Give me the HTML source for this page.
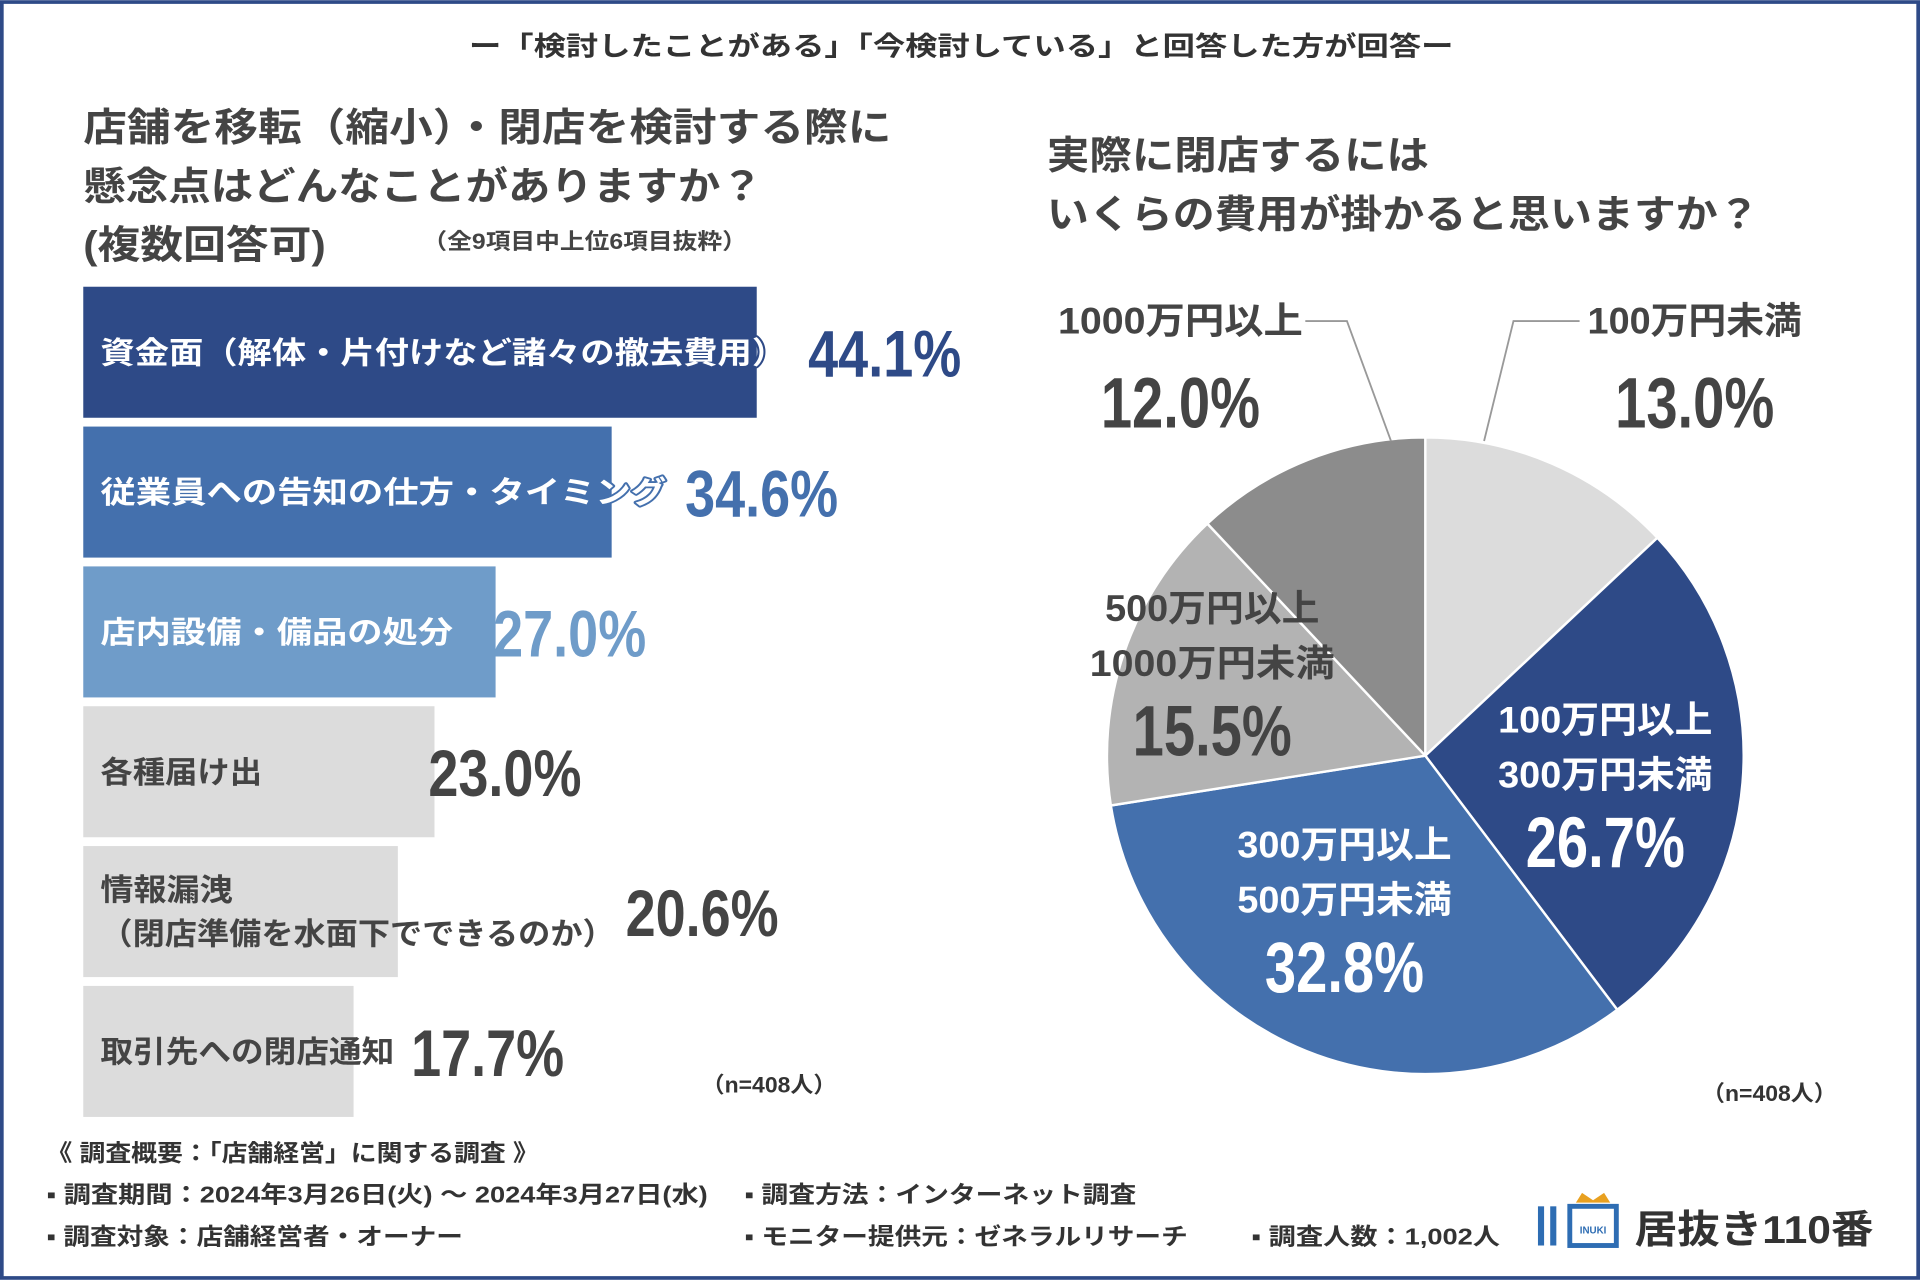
<!DOCTYPE html>
<html><head><meta charset="utf-8"><style>
html,body{margin:0;padding:0;background:#fff}
svg{display:block}
text{font-family:"Liberation Sans","Noto Sans CJK JP",sans-serif;font-weight:bold}
.num{font-family:"Liberation Sans",sans-serif;font-weight:bold}
</style></head><body>
<svg width="1920" height="1280" viewBox="0 0 1568 1045" xmlns="http://www.w3.org/2000/svg">
<rect x="1.5" y="1.5" width="1565" height="1042" fill="#fff" stroke="#2e4a87" stroke-width="3"/>
<text x="383" y="45" textLength="804" lengthAdjust="spacingAndGlyphs" font-size="22" fill="#333">ー「検討したことがある」「今検討している」と回答した方が回答ー</text>
<g fill="#444" font-size="32">
<text x="68" y="115" textLength="660" lengthAdjust="spacingAndGlyphs">店舗を移転（縮小）・閉店を検討する際に</text>
<text x="68" y="163" textLength="555" lengthAdjust="spacingAndGlyphs">懸念点はどんなことがありますか？</text>
<text x="68" y="211" textLength="198" lengthAdjust="spacingAndGlyphs">(複数回答可)</text>
<text x="345" y="203" font-size="18" textLength="265" lengthAdjust="spacingAndGlyphs">（全9項目中上位6項目抜粋）</text>
</g>
<g id="bars"></g>
<text x="573" y="892" font-size="18" fill="#333" textLength="110" lengthAdjust="spacingAndGlyphs">（n=408人）</text>
<g fill="#444" font-size="32">
<text x="855" y="138" textLength="312" lengthAdjust="spacingAndGlyphs">実際に閉店するには</text>
<text x="855" y="186" textLength="582" lengthAdjust="spacingAndGlyphs">いくらの費用が掛かると思いますか？</text>
</g>
<g id="pie"></g>
<text x="1390" y="899" font-size="18" fill="#333" textLength="110" lengthAdjust="spacingAndGlyphs">（n=408人）</text>
<g font-size="19" fill="#333">
<text x="38" y="948" textLength="402" lengthAdjust="spacingAndGlyphs">《 調査概要：「店舗経営」に関する調査 》</text>
<text x="38" y="982" textLength="540" lengthAdjust="spacingAndGlyphs">▪ 調査期間：2024年3月26日(火) 〜 2024年3月27日(水)</text>
<text x="608" y="982" textLength="320" lengthAdjust="spacingAndGlyphs">▪ 調査方法：インターネット調査</text>
<text x="38" y="1016" textLength="340" lengthAdjust="spacingAndGlyphs">▪ 調査対象：店舗経営者・オーナー</text>
<text x="608" y="1016" textLength="362" lengthAdjust="spacingAndGlyphs">▪ モニター提供元：ゼネラルリサーチ</text>
<text x="1022" y="1016" textLength="203" lengthAdjust="spacingAndGlyphs">▪ 調査人数：1,002人</text>
</g>
<g>
<rect x="1256" y="985" width="5" height="32" fill="#2e6db3"/>
<rect x="1266" y="985" width="5" height="32" fill="#2e6db3"/>
<rect x="1282" y="985" width="38" height="32" fill="none" stroke="#2e6db3" stroke-width="4"/>
<path d="M1287 982 l5 -8 l9 6 l9 -6 l5 8 z" fill="#e8a020"/>
<text x="1301" y="1007" text-anchor="middle" font-size="8" fill="#2e6db3">INUKI</text>
<text x="1335" y="1015" font-size="32" fill="#333" textLength="195" lengthAdjust="spacingAndGlyphs">居抜き110番</text>
</g>
<script>
const barLabels=["資金面（解体・片付けなど諸々の撤去費用）","従業員への告知の仕方・タイミング","店内設備・備品の処分","各種届け出","情報漏洩\n（閉店準備を水面下でできるのか）","取引先への閉店通知"];
const barValues=[44.1,34.6,27.0,23.0,20.6,17.7];
const barColors=["#2e4a87","#4470ad","#6f9cc9","#dcdcdc","#dcdcdc","#dcdcdc"];
const valColors=["#2e4a87","#4470ad","#6f9cc9","#444","#444","#444"];
const labColors=["#fff","#fff","#fff","#444","#444","#444"];
const labWidths=[[560],[462],[288],[132],[108,420],[240]];
const pieLabels=["100万円未満","100万円以上\n300万円未満","300万円以上\n500万円未満","500万円以上\n1000万円未満","1000万円以上"];
const pieValues=[13.0,26.7,32.8,15.5,12.0];
const pieColors=["#dcdcdc","#2e4a87","#4470ad","#b3b3b3","#8c8c8c"];
const NS="http://www.w3.org/2000/svg";
function mk(tag,attrs,parent){const e=document.createElementNS(NS,tag);for(const k in attrs)e.setAttribute(k,attrs[k]);parent.appendChild(e);return e;}
const x0=68,xs=v=>v*550/44.1,y0=234,step=114.2,bh=107;
const valOff=[42,60,-2,-5,186,47];
const bars=document.getElementById('bars');
barValues.forEach((v,i)=>{
 const y=y0+i*step,w=xs(v);
 const r=mk('rect',{x:x0,y:y,width:w,height:bh,fill:barColors[i]},bars);
 
 
 const lines=barLabels[i].split("\n");
 lines.forEach((ln,j)=>{
  const attrs={x:82,y:y+bh/2+9+(j-(lines.length-1)/2)*36,'font-size':25,fill:labColors[i],textLength:labWidths[i][j],lengthAdjust:'spacingAndGlyphs'};
  if(i<3){attrs.stroke=barColors[i];attrs['stroke-width']=3;attrs['paint-order']='stroke';attrs['stroke-linejoin']='round';}
  const t=mk('text',attrs,bars);
  t.textContent=ln;
  
  
 });
 const s=v.toFixed(1)+"%";
 const tv=mk('text',{x:x0+w+valOff[i],y:y+bh/2+20,'font-size':54,fill:valColors[i],class:'num',textLength:s.length*25,lengthAdjust:'spacingAndGlyphs'},bars);
 tv.textContent=s;
 
 
});
const pie=document.getElementById('pie');
const cx=1164,cy=617,R=260;
const tot=pieValues.reduce((a,b)=>a+b,0);
let a=0;
pieValues.forEach((v,i)=>{
 const a1=a,a2=a+v/tot*2*Math.PI;a=a2;
 const p=(t)=>[cx+R*Math.sin(t),cy-R*Math.cos(t)];
 const [x1,y1]=p(a1),[x2,y2]=p(a2);
 const s=mk('path',{d:`M${cx},${cy}L${x1},${y1}A${R},${R} 0 ${a2-a1>Math.PI?1:0} 1 ${x2},${y2}Z`,fill:pieColors[i],stroke:'#fff','stroke-width':2},pie);
 
 
});
const labPos=[[1384,272,'#444'],[1311,598,'#fff'],[1098,700,'#fff'],[990,507,'#444'],[964,272,'#444']];
pieLabels.forEach((l,i)=>{
 const [x,y,c]=labPos[i];const lines=l.split("\n");
 lines.forEach((ln,j)=>{
  const t=mk('text',{x:x,y:y+j*45,'text-anchor':'middle','font-size':30,fill:c,textLength:ln.length*(ln.length>6?25:28),lengthAdjust:'spacingAndGlyphs'},pie);
  t.textContent=ln;
  
  
 });
 const s=pieValues[i].toFixed(1)+"%";
 const t=mk('text',{x:x,y:y+lines.length*45+(lines.length==1?32:20),'text-anchor':'middle','font-size':58,fill:c,class:'num',textLength:s.length*26,lengthAdjust:'spacingAndGlyphs'},pie);
 t.textContent=s;
 
 
});
const l1=mk('polyline',{points:'1290,262 1236,262 1212,360',fill:'none',stroke:'#999','stroke-width':1.5},pie);


const l2=mk('polyline',{points:'1066,262 1100,262 1136,360',fill:'none',stroke:'#999','stroke-width':1.5},pie);


</script>
</svg>
</body></html>
